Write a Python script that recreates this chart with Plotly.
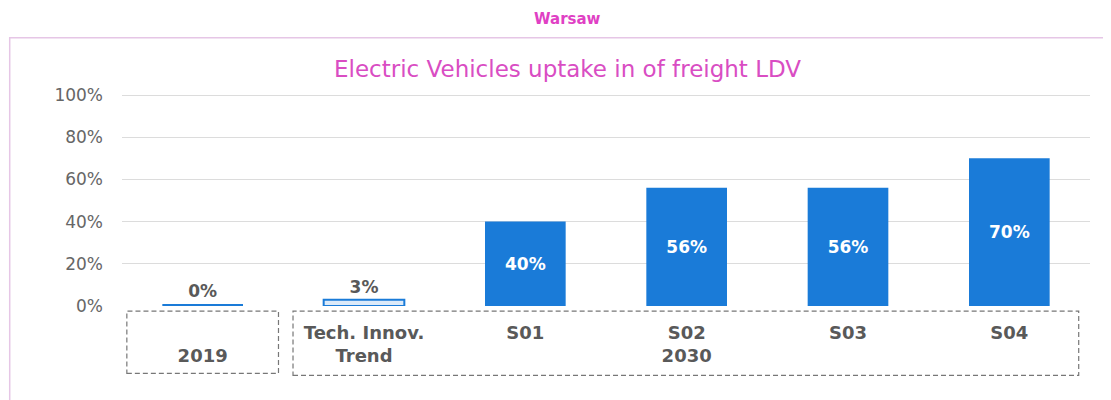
import plotly.graph_objects as go

categories = ["2019", "Tech. Innov.<br>Trend", "S01", "S02<br>2030", "S03", "S04"]
tick_labels = ["<br>2019", "Tech. Innov.<br>Trend", "S01", "S02<br>2030", "S03", "S04"]
values = [0, 3, 40, 56, 56, 70]
y_ticks = [0, 20, 40, 60, 80, 100]
y_tick_labels = ["0%", "20%", "40%", "60%", "80%", "100%"]

BLUE = "#1A7BD8"
GRAY = "#595959"
PINK = "#D94DC3"
FONT = "DejaVu Sans"

x_idx = list(range(len(categories)))
# a 0% bar is drawn as a thin visible strip, as in the reference
shown = [v if v > 0 else 0.8 for v in values]
fills = [BLUE if v >= 10 or v == 0 else "#DCEAF9" for v in values]
text_pos = ["inside" if v >= 10 else "outside" for v in values]
text_col = ["white" if v >= 10 else GRAY for v in values]

fig = go.Figure()
fig.add_trace(go.Bar(
    x=x_idx, y=shown,
    width=0.5,
    marker=dict(color=fills, line=dict(color=BLUE, width=[0, 2, 0, 0, 0, 0])),
    text=[f"<b>{v}%</b>" for v in values],
    textposition=text_pos,
    insidetextanchor="middle",
    textfont=dict(family=FONT, size=17, color=text_col),
    outsidetextfont=dict(family=FONT, size=17, color=GRAY),
    cliponaxis=False,
    hoverinfo="skip",
))

fig.update_layout(
    width=1103, height=392,
    margin=dict(l=114, r=21, t=86, b=94),
    paper_bgcolor="white", plot_bgcolor="white",
    showlegend=False,
    bargap=0.5,
    font=dict(family=FONT, color=GRAY),
)
fig.update_xaxes(
    tickmode="array", tickvals=x_idx,
    ticktext=[f"<b>{t}</b>" for t in tick_labels],
    range=[-0.5, len(categories) - 0.5],
    tickfont=dict(family=FONT, size=18, color=GRAY),
    showgrid=False, zeroline=False, showline=False,
    ticklabelstandoff=14,
)
fig.update_yaxes(
    range=[0, 100.5], tickmode="array", tickvals=y_ticks, ticktext=y_tick_labels,
    tickfont=dict(family=FONT, size=17, color="#666666"),
    showgrid=True, gridcolor="#DCDCDC", gridwidth=1,
    zeroline=False, showline=False,
    ticklabelstandoff=18,
)

# outer pink frame
fig.add_shape(type="rect", xref="paper", yref="paper",
              x0=-0.116, x1=1.2, y0=-0.6, y1=1.265,
              line=dict(color="#E6C6E6", width=1.5), layer="below")
# dashed category boxes
fig.add_shape(type="rect", xref="x", yref="paper",
              x0=-0.47, x1=0.47, y0=-0.318, y1=-0.024,
              line=dict(color="#777777", width=1.2, dash="5px,3px"))
fig.add_shape(type="rect", xref="x", yref="paper",
              x0=0.56, x1=5.43, y0=-0.327, y1=-0.024,
              line=dict(color="#777777", width=1.2, dash="5px,3px"))

fig.add_annotation(text="<b>Warsaw</b>", xref="paper", yref="paper",
                   x=0.46, y=1.355, yanchor="middle", showarrow=False,
                   font=dict(family=FONT, size=15, color="#E040C4"))
fig.add_annotation(text="Electric Vehicles uptake in of freight LDV",
                   xref="paper", yref="paper", x=0.46, y=1.118, yanchor="middle",
                   showarrow=False,
                   font=dict(family=FONT, size=23, color=PINK))

fig.write_html("out.html")
